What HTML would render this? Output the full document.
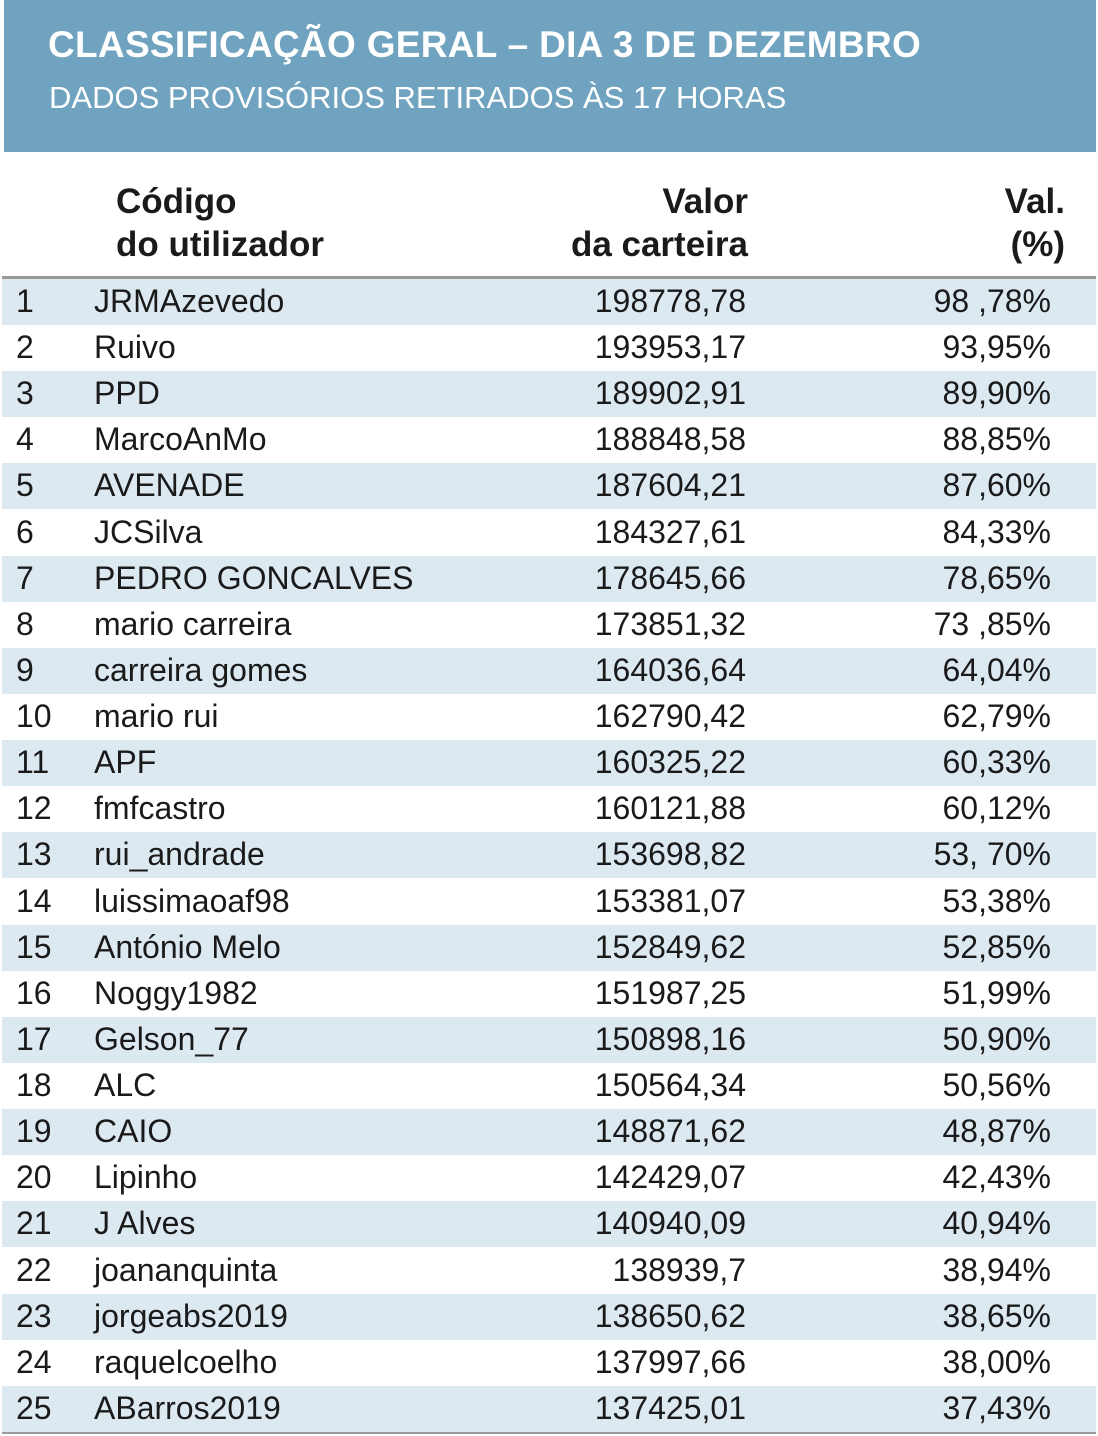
<!DOCTYPE html>
<html><head><meta charset="utf-8">
<style>
html,body{margin:0;padding:0;background:#fff;}
body{width:1098px;height:1436px;position:relative;overflow:hidden;font-family:"Liberation Sans",sans-serif;color:#1a1a1a;}
#hdr{position:absolute;left:4px;top:0;width:1092px;height:152px;background:#6fa3bf;}
#title{position:absolute;left:44px;top:24px;font-size:37px;font-weight:bold;color:#fff;white-space:nowrap;letter-spacing:0.3px;}
#sub{position:absolute;left:45px;top:80px;font-size:31px;color:#fff;white-space:nowrap;}
.h{position:absolute;font-size:35px;font-weight:bold;line-height:43px;color:#1a1a1a;}
#rule{position:absolute;left:2px;top:276px;width:1094px;height:3px;background:#999;}
#bot{position:absolute;left:2px;top:1432px;width:1094px;height:2px;background:#999;}
.row{position:absolute;left:2px;width:1094px;height:46px;font-size:32px;}
.row span{position:absolute;top:4px;white-space:nowrap;}
.rk{left:14px;}.nm{left:92px;}.vl{right:350px;}.pc{right:45px;}
</style></head><body>
<div id="hdr">
<div id="title">CLASSIFICAÇÃO GERAL – DIA 3 DE DEZEMBRO</div>
<div id="sub">DADOS PROVISÓRIOS RETIRADOS ÀS 17 HORAS</div>
</div>
<div class="h" style="left:116px;top:180px;">Código<br>do utilizador</div>
<div class="h" style="right:350px;top:180px;text-align:right;">Valor<br>da carteira</div>
<div class="h" style="right:33px;top:180px;text-align:right;">Val.<br>(%)</div>
<div id="rule"></div>
<div id="rows"></div>
<div id="bot"></div>
<script>
const names=["JRMAzevedo","Ruivo","PPD","MarcoAnMo","AVENADE","JCSilva","PEDRO GONCALVES","mario carreira","carreira gomes","mario rui","APF","fmfcastro","rui_andrade","luissimaoaf98","António Melo","Noggy1982","Gelson_77","ALC","CAIO","Lipinho","J Alves","joananquinta","jorgeabs2019","raquelcoelho","ABarros2019"];
const values=["198778,78","193953,17","189902,91","188848,58","187604,21","184327,61","178645,66","173851,32","164036,64","162790,42","160325,22","160121,88","153698,82","153381,07","152849,62","151987,25","150898,16","150564,34","148871,62","142429,07","140940,09","138939,7","138650,62","137997,66","137425,01"];
const pcts=["98 ,78%","93,95%","89,90%","88,85%","87,60%","84,33%","78,65%","73 ,85%","64,04%","62,79%","60,33%","60,12%","53, 70%","53,38%","52,85%","51,99%","50,90%","50,56%","48,87%","42,43%","40,94%","38,94%","38,65%","38,00%","37,43%"];
const host=document.getElementById('rows');
const top0=279,rh=46.12;
names.forEach((n,i)=>{
  const r=document.createElement('div');
  r.className='row';
  
  
  r.style.top=(top0+i*rh)+'px';
  r.style.background=i%2===0?'#dde9f1':'#fff';
  const a=document.createElement('span');a.className='rk';a.textContent=String(i+1);
  
  
  const b=document.createElement('span');b.className='nm';b.textContent=n;
  
  
  const c=document.createElement('span');c.className='vl';c.textContent=values[i];
  
  
  const d=document.createElement('span');d.className='pc';d.textContent=pcts[i];
  
  
  r.append(a,b,c,d);host.appendChild(r);
});
</script>
</body></html>
